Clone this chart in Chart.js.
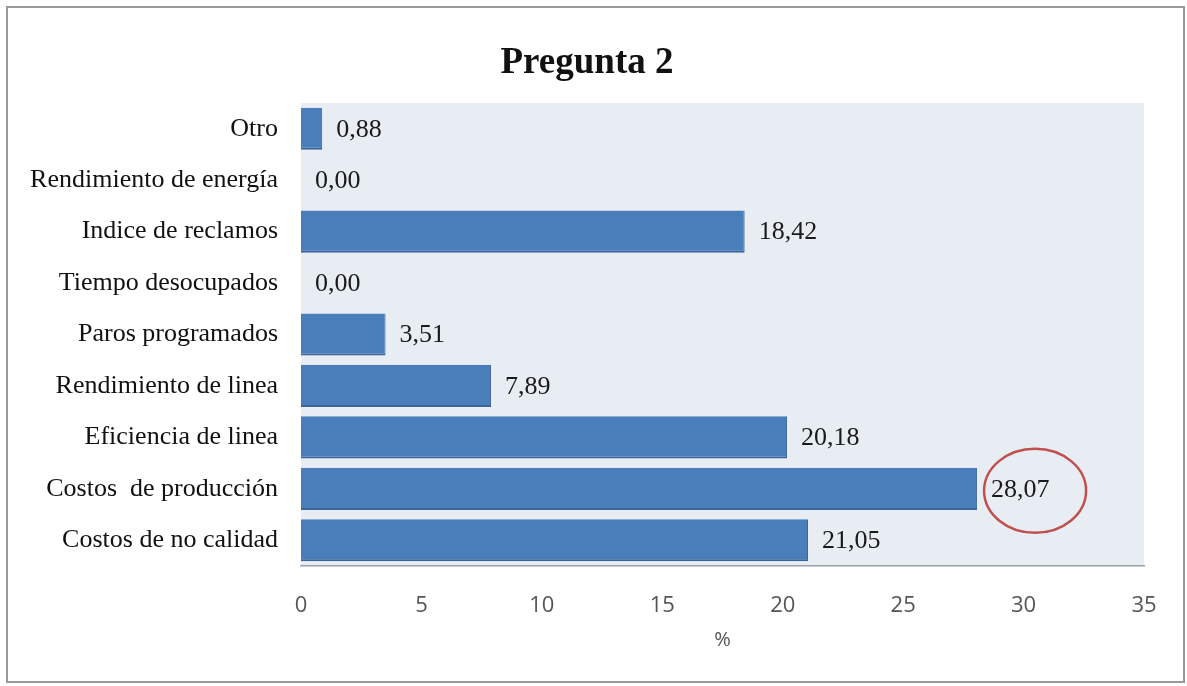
<!DOCTYPE html>
<html lang="es">
<head>
    <meta charset="UTF-8">
    <title>Pregunta 2</title>
    <script src="https://cdn.jsdelivr.net/npm/chart.js"></script>
    <style>
        html, body { margin: 0; padding: 0; background: #fff; }
        #wrap { width: 1187px; height: 686px; }
    </style>
</head>
<body>
    <div id="wrap"><canvas id="barChart" width="1187" height="686"></canvas></div>

    <script>
        const categories = [
            'Otro',
            'Rendimiento de energía',
            'Indice de reclamos',
            'Tiempo desocupados',
            'Paros programados',
            'Rendimiento de linea',
            'Eficiencia de linea',
            'Costos  de producción',
            'Costos de no calidad'
        ];
        const percentages = [0.88, 0.00, 18.42, 0.00, 3.51, 7.89, 20.18, 28.07, 21.05];
        const xTicks = [0, 5, 10, 15, 20, 25, 30, 35];
        const highlighted = 'Costos  de producción';

        // frame, plot background, title, value labels and the red ring
        const decorations = {
            id: 'decorations',
            beforeDraw(chart) {
                const { ctx, chartArea: a } = chart;
                ctx.save();
                ctx.fillStyle = '#ffffff';
                ctx.fillRect(0, 0, chart.width, chart.height);
                ctx.strokeStyle = '#9a9a9a';
                ctx.lineWidth = 2;
                ctx.strokeRect(7, 7, chart.width - 10, chart.height - 11);
                ctx.fillStyle = '#e8edf4';
                ctx.fillRect(a.left, a.top, a.right - a.left, a.bottom - a.top);
                ctx.restore();
            },
            afterDatasetsDraw(chart) {
                const { ctx } = chart;
                const meta = chart.getDatasetMeta(0);
                ctx.save();
                ctx.font = 'bold 37px "Liberation Serif"';
                ctx.fillStyle = '#111';
                ctx.textAlign = 'center';
                ctx.textBaseline = 'middle';
                ctx.fillText('Pregunta 2', 587, 63);

                ctx.font = '26px "Liberation Serif"';
                ctx.fillStyle = '#1a1a1a';
                ctx.textAlign = 'left';
                meta.data.forEach((bar, i) => {
                    const txt = percentages[i].toFixed(2).replace('.', ',');
                    ctx.fillText(txt, bar.x + 14, bar.y + 1);
                    if (categories[i] === highlighted) {
                        ctx.strokeStyle = '#c0504d';
                        ctx.lineWidth = 2.5;
                        ctx.beginPath();
                        ctx.ellipse(bar.x + 58, bar.y + 2, 51, 42, 0, 0, Math.PI * 2);
                        ctx.stroke();
                    }
                });
                ctx.restore();
            }
        };

        const ctx = document.getElementById('barChart').getContext('2d');
        new Chart(ctx, {
            type: 'bar',
            data: {
                labels: categories,
                datasets: [{
                    label: '%',
                    data: percentages,
                    backgroundColor: '#4a7ebb',
                    borderColor: '#3d6597',
                    borderWidth: { top: 0, left: 0, right: 1, bottom: 2 },
                    borderSkipped: false,
                    barPercentage: 0.82,
                    categoryPercentage: 1.0
                }]
            },
            options: {
                indexAxis: 'y',
                responsive: false,
                animation: false,
                layout: { padding: { top: 103, right: 43, left: 0, bottom: 30 } },
                plugins: {
                    legend: { display: false },
                    tooltip: { enabled: false }
                },
                scales: {
                    x: {
                        min: 0,
                        max: 35,
                        afterBuildTicks(scale) {
                            scale.ticks = xTicks.map(v => ({ value: v }));
                        },
                        afterFit(scale) { scale.height = 90; },
                        grid: { display: false, drawTicks: false },
                        border: { display: true, color: '#9aa0a8', width: 1.5 },
                        ticks: {
                            padding: 27,
                            color: '#555',
                            font: { family: 'Open Sans', size: 22 }
                        },
                        title: {
                            display: true,
                            text: '%',
                            color: '#555',
                            font: { family: 'Open Sans', size: 20 },
                            padding: { top: 12 }
                        }
                    },
                    y: {
                        afterFit(scale) { scale.width = 301; },
                        grid: { display: false, drawTicks: false },
                        border: { display: false },
                        ticks: {
                            padding: 23,
                            color: '#111',
                            font: { family: 'Liberation Serif', size: 26 }
                        }
                    }
                }
            },
            plugins: [decorations]
        });
    </script>
</body>
</html>
